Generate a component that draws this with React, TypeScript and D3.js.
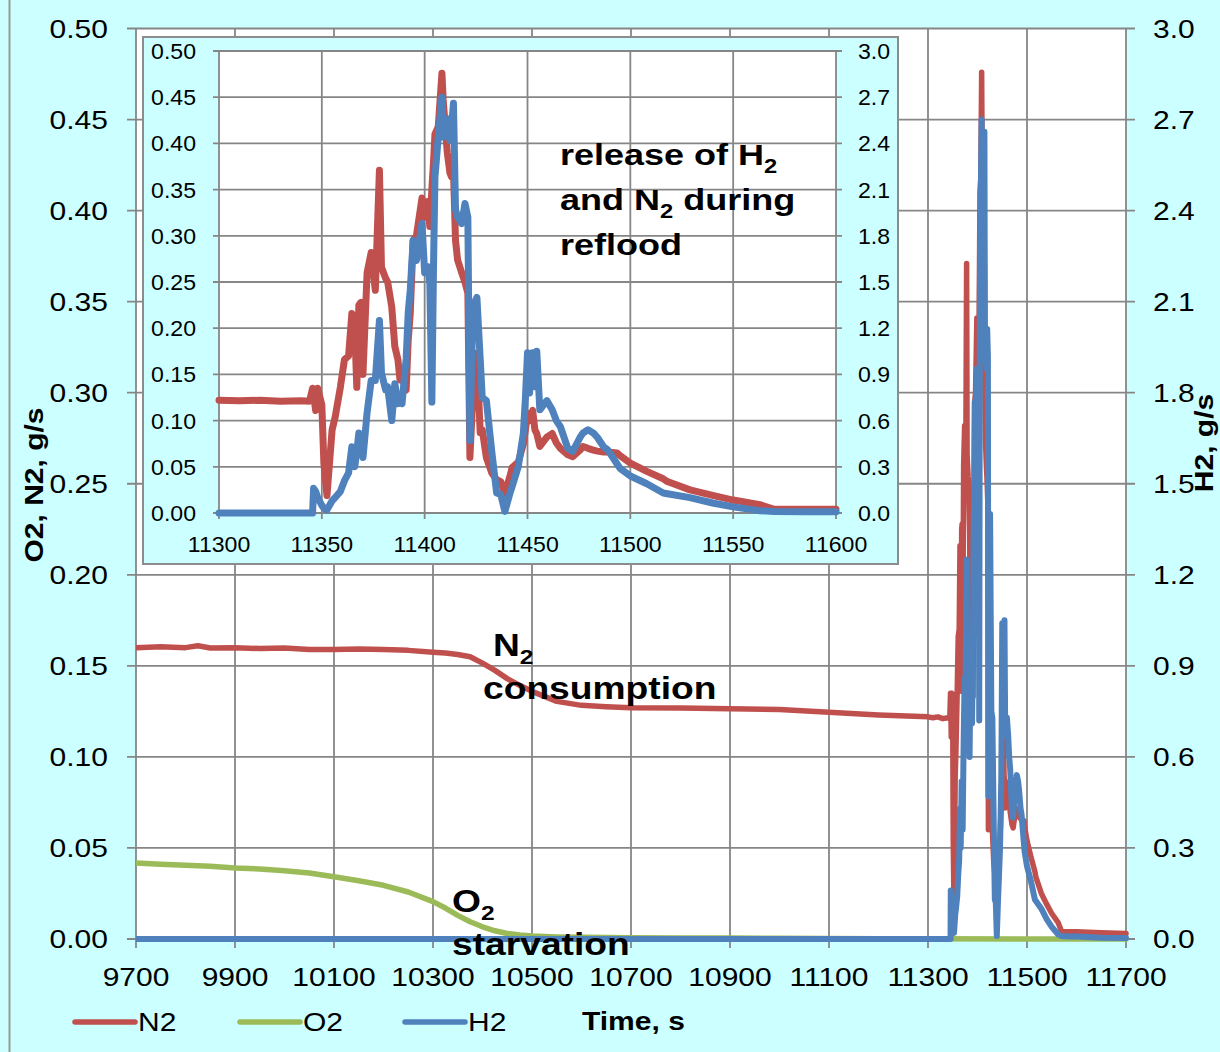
import React, { useEffect, useRef } from "react";
import * as d3 from "d3";

// slow phase before reflood (s, g/s)
const baseTime = [9700, 9750, 9800, 9825, 9850, 9900, 9950, 10000, 10050, 10100, 10150, 10200, 10250, 10300, 10325, 10350, 10375, 10400, 10425, 10450, 10475, 10500, 10550, 10600, 10650, 10700, 10800, 10900, 11000, 11100, 11200];
const baseN2 = [0.160, 0.1605, 0.160, 0.161, 0.1598, 0.160, 0.1595, 0.1598, 0.159, 0.159, 0.1593, 0.159, 0.1585, 0.1575, 0.157, 0.1562, 0.155, 0.1515, 0.1475, 0.143, 0.1393, 0.136, 0.1305, 0.1283, 0.1275, 0.127, 0.1268, 0.1265, 0.126, 0.1245, 0.123];
const baseO2 = [0.0417, 0.041, 0.0405, 0.0402, 0.040, 0.039, 0.0385, 0.0375, 0.0362, 0.0342, 0.032, 0.0295, 0.0258, 0.0205, 0.017, 0.013, 0.0095, 0.0067, 0.0045, 0.003, 0.0022, 0.0016, 0.0011, 0.0009, 0.0008, 0.0007, 0.0006, 0.0005, 0.0004, 0.0003, 0.0002];
const o2EndTime = [11300, 11700];
const o2End = [0.0001, 0];
const h2StartTime = [9700];
const h2Start = [0];

// reflood phase (also shown in the inset)
const refloodTime = [11300, 11310, 11320, 11330, 11340, 11344, 11345.5, 11346, 11347, 11348, 11350, 11351, 11352.5, 11355, 11356.5, 11359, 11361, 11363, 11364.6, 11366, 11367, 11368, 11369, 11370, 11372, 11374, 11376, 11378, 11379, 11381, 11382, 11384, 11385.5, 11387, 11388, 11389, 11390, 11391, 11392, 11393, 11394.4, 11396, 11398.7, 11400, 11401.6, 11402.5, 11403.5, 11404.3, 11405, 11406.6, 11408.4, 11409, 11411, 11412.3, 11413, 11414, 11415, 11416, 11418, 11419.6, 11421, 11422, 11423.5, 11425.4, 11427, 11428, 11430, 11432.7, 11435, 11437, 11439, 11441.5, 11442.5, 11445.5, 11448, 11449, 11450, 11451, 11452.5, 11453.6, 11454.5, 11456, 11459.4, 11462, 11464, 11466, 11469.6, 11472, 11475.5, 11477, 11479.4, 11482, 11484, 11487, 11489, 11493.5, 11495, 11500, 11508, 11516, 11518, 11529, 11540, 11550, 11563, 11570, 11585, 11600];
const refloodN2 = [0.122, 0.1215, 0.122, 0.121, 0.1215, 0.121, 0.135, 0.128, 0.111, 0.135, 0.117, 0.054, 0.019, 0.09, 0.104, 0.136, 0.166, 0.17, 0.216, 0.20, 0.136, 0.225, 0.228, 0.15, 0.26, 0.282, 0.241, 0.371, 0.266, 0.254, 0.25, 0.223, 0.18, 0.166, 0.144, 0.15, 0.14, 0.133, 0.187, 0.216, 0.295, 0.30, 0.341, 0.32, 0.337, 0.31, 0.35, 0.38, 0.41, 0.418, 0.476, 0.447, 0.39, 0.368, 0.364, 0.37, 0.295, 0.274, 0.26, 0.25, 0.238, 0.06, 0.13, 0.173, 0.087, 0.09, 0.06, 0.043, 0.036, 0.034, 0.021, 0.04, 0.049, 0.055, 0.075, 0.09, 0.108, 0.10, 0.111, 0.09, 0.086, 0.072, 0.082, 0.086, 0.076, 0.07, 0.063, 0.061, 0.068, 0.072, 0.07, 0.068, 0.067, 0.066, 0.066, 0.065, 0.062, 0.054, 0.045, 0.037, 0.034, 0.025, 0.019, 0.014, 0.009, 0.004, 0.004, 0.004];
const refloodH2 = [0, 0, 0, 0, 0, 0, 0, 0.16, 0.14, 0.10, 0.05, 0.03, 0.02, 0.08, 0.10, 0.14, 0.21, 0.26, 0.43, 0.30, 0.40, 0.52, 0.45, 0.36, 0.65, 0.86, 0.86, 1.25, 0.91, 0.80, 0.82, 0.60, 0.84, 0.71, 0.72, 0.71, 0.86, 1.0, 1.30, 1.45, 1.77, 1.64, 1.88, 1.56, 1.60, 1.5, 0.72, 1.6, 2.18, 2.44, 2.70, 2.44, 2.56, 2.42, 2.5, 2.66, 1.97, 1.92, 1.88, 2.01, 1.92, 0.47, 1.34, 1.40, 1.0, 0.75, 0.73, 0.39, 0.13, 0.12, 0.01, 0.13, 0.17, 0.30, 0.52, 0.75, 1.04, 0.78, 1.04, 0.82, 1.05, 0.67, 0.73, 0.67, 0.60, 0.56, 0.42, 0.40, 0.49, 0.52, 0.54, 0.52, 0.49, 0.43, 0.41, 0.32, 0.29, 0.24, 0.19, 0.13, 0.125, 0.10, 0.065, 0.04, 0.015, 0.01, 0.008, 0.008];

const tailTime = [11650, 11700];
const tailN2 = [0.0035, 0.003];
const tailH2 = [0.004, 0.003];

const mainXTicks = [9700, 9900, 10100, 10300, 10500, 10700, 10900, 11100, 11300, 11500, 11700];
const leftTicks = [0, 0.05, 0.1, 0.15, 0.2, 0.25, 0.3, 0.35, 0.4, 0.45, 0.5];
const rightTicks = [0, 0.3, 0.6, 0.9, 1.2, 1.5, 1.8, 2.1, 2.4, 2.7, 3.0];
const insetXTicks = [11300, 11350, 11400, 11450, 11500, 11550, 11600];

const RED = "#c0504d";
const GREEN = "#9bbb59";
const BLUE = "#4f81bd";
const GRID = "#868686";
const CYAN = "#ccffff";
const FONT = "'Liberation Sans', Arial, Helvetica, sans-serif";
const SX = 1.2;

function txt(g, x, y, s, size, anchor = "start", weight = "normal", sx = SX, rot = 0) {
  return g
    .append("text")
    .attr("transform", `translate(${x},${y}) rotate(${rot}) scale(${sx},1)`)
    .attr("text-anchor", anchor)
    .style("font-family", FONT)
    .style("font-size", size + "px")
    .style("font-weight", weight)
    .attr("fill", "#000")
    .text(s);
}

function subText(g, x, y, parts, size) {
  // parts: [text, isSub]
  const t = g
    .append("text")
    .attr("transform", `translate(${x},${y}) scale(${SX},1)`)
    .style("font-family", FONT)
    .style("font-size", size + "px")
    .style("font-weight", "bold")
    .attr("fill", "#000");
  let low = false;
  parts.forEach(([s, sub]) => {
    const sp = t.append("tspan").text(s);
    if (sub && !low) { sp.attr("dy", 8).style("font-size", size * 0.66 + "px"); low = true; }
    else if (sub) sp.style("font-size", size * 0.66 + "px");
    else if (low) { sp.attr("dy", -8); low = false; }
  });
  return t;
}

const App = () => {
  const ref = useRef(null);

  useEffect(() => {
    const svg = d3.select(ref.current);
    svg.selectAll("*").remove();

    const pts = (ts, vs) => ts.map((t, i) => [t, vs[i]]);
    const n2All = [...pts(baseTime, baseN2), ...pts(refloodTime, refloodN2), ...pts(tailTime, tailN2)];
    const o2All = [...pts(baseTime, baseO2), ...pts(o2EndTime, o2End)];
    const h2All = [...pts(h2StartTime, h2Start), ...pts(refloodTime, refloodH2), ...pts(tailTime, tailH2)];

    svg.append("rect").attr("width", 1220).attr("height", 1052).attr("fill", CYAN);
    svg.append("line").attr("x1", 9.5).attr("x2", 9.5).attr("y1", 0).attr("y2", 1052)
      .attr("stroke", "#9a9a9a").attr("stroke-width", 2);

    // main chart
    const x = d3.scaleLinear().domain([9700, 11700]).range([136, 1126]);
    const yL = d3.scaleLinear().domain([0, 0.5]).range([939, 28.5]);
    const yR = d3.scaleLinear().domain([0, 3]).range([939, 28.5]);

    const main = svg.append("g");
    main.append("rect").attr("x", x(9700)).attr("y", yL(0.5))
      .attr("width", x(11700) - x(9700)).attr("height", yL(0) - yL(0.5)).attr("fill", "#fff");

    leftTicks.forEach(v => {
      main.append("line").attr("x1", x(9700) - 9).attr("x2", x(11700) + 9)
        .attr("y1", yL(v)).attr("y2", yL(v)).attr("stroke", GRID).attr("stroke-width", 1.8);
      txt(main, 108, yL(v) + 9, v.toFixed(2), 25, "end");
    });
    rightTicks.forEach(v => {
      txt(main, 1153, yR(v) + 9, v.toFixed(1), 25, "start");
    });
    mainXTicks.forEach(t => {
      main.append("line").attr("x1", x(t)).attr("x2", x(t))
        .attr("y1", yL(0.5)).attr("y2", yL(0) + 9).attr("stroke", GRID).attr("stroke-width", 1.8);
      txt(main, x(t), 986, String(t), 25, "middle");
    });

    main.append("clipPath").attr("id", "mainClip").append("rect")
      .attr("x", x(9700)).attr("y", yL(0.5) - 3).attr("width", x(11700) - x(9700) + 3).attr("height", yL(0) - yL(0.5) + 6);

    const lineL = d3.line().x(d => x(d[0])).y(d => yL(d[1]));
    const lineR = d3.line().x(d => x(d[0])).y(d => yR(d[1]));
    const lines = main.append("g").attr("clip-path", "url(#mainClip)")
      .attr("fill", "none").attr("stroke-linejoin", "round").attr("stroke-linecap", "round");
    lines.append("path").attr("d", lineL(n2All)).attr("stroke", RED).attr("stroke-width", 5.5);
    lines.append("path").attr("d", lineL(o2All)).attr("stroke", GREEN).attr("stroke-width", 5.5);
    lines.append("path").attr("d", lineR(h2All)).attr("stroke", BLUE).attr("stroke-width", 6);

    subText(main, 493, 656, [["N", false], ["2", true]], 31);
    txt(main, 483, 699, "consumption", 31, "start", "bold");
    subText(main, 452, 912, [["O", false], ["2", true]], 31);
    txt(main, 452, 955, "starvation", 31, "start", "bold");

    // inset
    const ix = d3.scaleLinear().domain([11300, 11600]).range([219, 836]);
    const iyL = d3.scaleLinear().domain([0, 0.5]).range([513, 51]);
    const iyR = d3.scaleLinear().domain([0, 3]).range([513, 51]);
    const inset = svg.append("g");
    inset.append("rect").attr("x", 143).attr("y", 37).attr("width", 755).attr("height", 527)
      .attr("fill", CYAN).attr("stroke", "#8c8c8c").attr("stroke-width", 2);
    inset.append("rect").attr("x", ix(11300)).attr("y", iyL(0.5))
      .attr("width", ix(11600) - ix(11300)).attr("height", iyL(0) - iyL(0.5)).attr("fill", "#fff");

    leftTicks.forEach(v => {
      inset.append("line").attr("x1", ix(11300) - 6).attr("x2", ix(11600) + 6)
        .attr("y1", iyL(v)).attr("y2", iyL(v)).attr("stroke", GRID).attr("stroke-width", 1.8);
      txt(inset, 196, iyL(v) + 8, v.toFixed(2), 22, "end", "normal", 1.05);
    });
    rightTicks.forEach(v => {
      txt(inset, 858, iyR(v) + 8, v.toFixed(1), 22, "start", "normal", 1.05);
    });
    insetXTicks.forEach(t => {
      inset.append("line").attr("x1", ix(t)).attr("x2", ix(t))
        .attr("y1", iyL(0.5)).attr("y2", iyL(0) + 6).attr("stroke", GRID).attr("stroke-width", 1.8);
      txt(inset, ix(t), 552, String(t), 22, "middle", "normal", 1.05);
    });

    const iLineL = d3.line().x(d => ix(d[0])).y(d => iyL(d[1]));
    const iLineR = d3.line().x(d => ix(d[0])).y(d => iyR(d[1]));
    const iLines = inset.append("g").attr("fill", "none")
      .attr("stroke-linejoin", "round").attr("stroke-linecap", "round");
    iLines.append("path").attr("d", iLineL(pts(refloodTime, refloodN2))).attr("stroke", RED).attr("stroke-width", 7);
    iLines.append("path").attr("d", iLineR(pts(refloodTime, refloodH2))).attr("stroke", BLUE).attr("stroke-width", 7);

    subText(inset, 560, 165, [["release of H", false], ["2", true]], 30);
    subText(inset, 560, 210, [["and N", false], ["2", true], [" during", false]], 30);
    txt(inset, 560, 255, "reflood", 30, "start", "bold");

    // axis titles
    txt(svg, 43, 485, "O2,  N2, g/s", 25, "middle", "bold", SX, -90);
    txt(svg, 1213, 443, "H2, g/s", 25, "middle", "bold", SX, -90);

    // legend
    const legend = [["N2", RED, 75], ["O2", GREEN, 240], ["H2", BLUE, 405]];
    legend.forEach(([name, col, lx]) => {
      svg.append("line").attr("x1", lx).attr("x2", lx + 60).attr("y1", 1022).attr("y2", 1022)
        .attr("stroke", col).attr("stroke-width", 5.5).attr("stroke-linecap", "round");
      txt(svg, lx + 63, 1031, name, 25);
    });
    txt(svg, 582, 1030, "Time, s", 25, "start", "bold");
  }, []);

  return (
    <svg ref={ref} width={1220} height={1052}
      style={{ position: "absolute", left: 0, top: 0, display: "block" }} />
  );
};

export default App;
